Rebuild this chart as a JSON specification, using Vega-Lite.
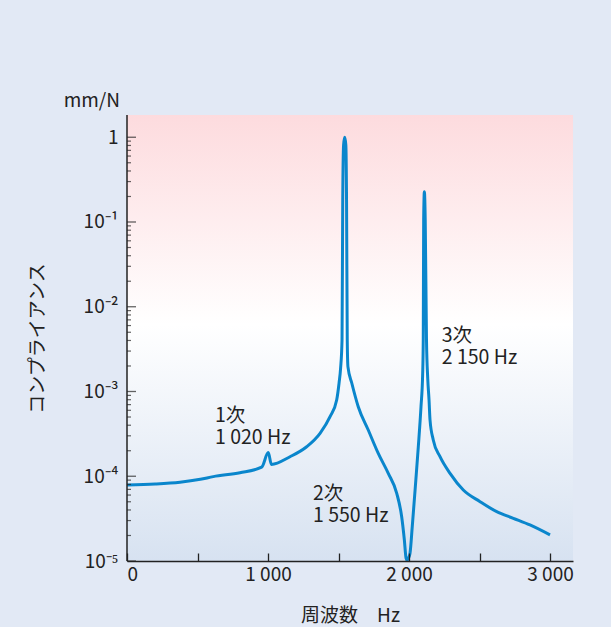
{
  "$schema": "https://vega.github.io/schema/vega-lite/v6.json",
  "width": 446,
  "height": 446,
  "autosize": "none",
  "padding": {"left": 127, "top": 115, "right": 38, "bottom": 66},
  "background": "#e2e9f5",
  "view": {
    "stroke": null,
    "fill": {
      "gradient": "linear",
      "x1": 0, "y1": 0, "x2": 0, "y2": 1,
      "stops": [
        {"offset": 0, "color": "#fddbde"},
        {"offset": 0.47, "color": "#ffffff"},
        {"offset": 1, "color": "#d7e2f1"}
      ]
    }
  },
  "config": {
    "font": "Noto Sans CJK JP",
    "text": {"font": "Noto Sans CJK JP"},
    "axis": {"zindex": 1}
  },
  "title": {
    "text": "mm/N",
    "anchor": "start",
    "align": "right",
    "frame": "group",
    "dx": -7,
    "offset": 3,
    "fontSize": 19,
    "fontWeight": "normal",
    "font": "Noto Sans CJK JP",
    "color": "#222222"
  },
  "layer": [
    {
      "data": {"name": "curve"},
      "mark": {"type": "line", "interpolate": "monotone", "color": "#0a86cc", "strokeWidth": 3},
      "encoding": {
        "x": {
          "field": "f", "type": "quantitative",
          "scale": {"domain": [0, 3163], "nice": false, "zero": false},
          "axis": {
            "zindex": 1,
            "title": "周波数　Hz",
            "titleFontSize": 19, "titleFontWeight": "normal", "titleColor": "#222222", "titlePadding": 22,
            "values": [0, 500, 1000, 1500, 2000, 2500, 3000],
            "labelExpr": "datum.value == 0 ? '0' : (datum.value % 1000 == 0 ? floor(datum.value / 1000) + ' 000' : '')",
            "labelFlush": true,
            "labelFontSize": 19, "labelColor": "#222222", "labelPadding": 12,
            "tickSize": -8, "tickColor": "#222222", "tickWidth": 1.3,
            "domainColor": "#222222", "domainWidth": 1.5,
            "grid": false
          }
        },
        "y": {
          "field": "c", "type": "quantitative",
          "scale": {"type": "log", "domain": [0.00001, 1.83], "nice": false},
          "axis": {
            "zindex": 1,
            "orient": "left",
            "title": "コンプライアンス",
            "titleFontSize": 19, "titleFontWeight": "normal", "titleColor": "#222222", "titlePadding": 36,
            "values": [0.00001, 0.0001, 0.001, 0.01, 0.1, 1],
            "labelExpr": "datum.value >= 0.5 ? '1' : datum.value >= 0.05 ? '10⁻¹' : datum.value >= 0.005 ? '10⁻²' : datum.value >= 0.0005 ? '10⁻³' : datum.value >= 0.00005 ? '10⁻⁴' : '10⁻⁵'",
            "labelFontSize": 19, "labelColor": "#222222", "labelPadding": 9,
            "ticks": false, "tickSize": 0,
            "domain": false,
            "grid": false
          }
        }
      }
    },
    {
      "data": {"values": [{}]},
      "mark": {"type": "rule", "color": "#222222", "strokeWidth": 1.5},
      "encoding": {
        "x": {"datum": 0, "type": "quantitative"}
      }
    },
    {
      "data": {"values": [
        {"v": 0.00001}, {"v": 0.0001}, {"v": 0.001}, {"v": 0.01}, {"v": 0.1}, {"v": 1}
      ]},
      "mark": {"type": "tick", "orient": "horizontal", "color": "#222222", "thickness": 1.3, "size": 9, "xOffset": 4.5},
      "encoding": {
        "x": {"datum": 0, "type": "quantitative"},
        "y": {"field": "v", "type": "quantitative", "axis": null}
      }
    },
    {
      "data": {"values": [
        {"v": 0.00002}, {"v": 0.00003}, {"v": 0.00004}, {"v": 0.00005}, {"v": 0.00006}, {"v": 0.00007}, {"v": 0.00008}, {"v": 0.00009},
        {"v": 0.0002}, {"v": 0.0003}, {"v": 0.0004}, {"v": 0.0005}, {"v": 0.0006}, {"v": 0.0007}, {"v": 0.0008}, {"v": 0.0009},
        {"v": 0.002}, {"v": 0.003}, {"v": 0.004}, {"v": 0.005}, {"v": 0.006}, {"v": 0.007}, {"v": 0.008}, {"v": 0.009},
        {"v": 0.02}, {"v": 0.03}, {"v": 0.04}, {"v": 0.05}, {"v": 0.06}, {"v": 0.07}, {"v": 0.08}, {"v": 0.09},
        {"v": 0.2}, {"v": 0.3}, {"v": 0.4}, {"v": 0.5}, {"v": 0.6}, {"v": 0.7}, {"v": 0.8}, {"v": 0.9}
      ]},
      "mark": {"type": "tick", "orient": "horizontal", "color": "#222222", "thickness": 1.2, "size": 4, "xOffset": 2},
      "encoding": {
        "x": {"datum": 0, "type": "quantitative"},
        "y": {"field": "v", "type": "quantitative", "axis": null}
      }
    },
    {
      "data": {"values": [
        {"f": 624, "c": 0.000435, "t": "1次\n1 020 Hz"},
        {"f": 1319, "c": 0.0000524, "t": "2次\n1 550 Hz"},
        {"f": 2232, "c": 0.00383, "t": "3次\n2 150 Hz"}
      ]},
      "mark": {"type": "text", "align": "left", "baseline": "alphabetic", "fontSize": 19.5, "lineHeight": 22, "lineBreak": "\n", "color": "#222222"},
      "encoding": {
        "x": {"field": "f", "type": "quantitative"},
        "y": {"field": "c", "type": "quantitative", "axis": null},
        "text": {"field": "t"}
      }
    }
  ],
  "resolve": {"axis": {"y": "independent", "x": "shared"}},
  "datasets": {
    "curve": [
      {"f": 0, "c": 0.000079},
      {"f": 200, "c": 0.000081},
      {"f": 376, "c": 0.000085},
      {"f": 520, "c": 0.000092},
      {"f": 612, "c": 0.000099},
      {"f": 801, "c": 0.00011},
      {"f": 955, "c": 0.000128},
      {"f": 1002, "c": 0.00019},
      {"f": 1024, "c": 0.000138},
      {"f": 1156, "c": 0.00017},
      {"f": 1274, "c": 0.000223},
      {"f": 1369, "c": 0.000321},
      {"f": 1440, "c": 0.000505},
      {"f": 1487, "c": 0.000794},
      {"f": 1504, "c": 0.00126},
      {"f": 1515, "c": 0.0019},
      {"f": 1525, "c": 0.00406},
      {"f": 1530, "c": 0.182},
      {"f": 1536, "c": 0.81},
      {"f": 1544, "c": 1.0},
      {"f": 1552, "c": 0.81},
      {"f": 1557, "c": 0.182},
      {"f": 1562, "c": 0.00406},
      {"f": 1567, "c": 0.00195},
      {"f": 1594, "c": 0.00126},
      {"f": 1640, "c": 0.000662},
      {"f": 1711, "c": 0.000351},
      {"f": 1782, "c": 0.000186},
      {"f": 1853, "c": 0.000108},
      {"f": 1913, "c": 0.0000629},
      {"f": 1948, "c": 0.0000333},
      {"f": 1967, "c": 0.0000177},
      {"f": 1979, "c": 0.0000108},
      {"f": 1986, "c": 0.0000102},
      {"f": 1998, "c": 0.000011},
      {"f": 2007, "c": 0.0000123},
      {"f": 2023, "c": 0.0000254},
      {"f": 2043, "c": 0.0000688},
      {"f": 2066, "c": 0.000223},
      {"f": 2085, "c": 0.000662},
      {"f": 2097, "c": 0.00164},
      {"f": 2101, "c": 0.00406},
      {"f": 2104, "c": 0.106},
      {"f": 2109, "c": 0.228},
      {"f": 2115, "c": 0.106},
      {"f": 2124, "c": 0.00406},
      {"f": 2133, "c": 0.0014},
      {"f": 2142, "c": 0.000794},
      {"f": 2149, "c": 0.000461},
      {"f": 2172, "c": 0.000268},
      {"f": 2220, "c": 0.00017},
      {"f": 2291, "c": 0.000108},
      {"f": 2385, "c": 0.0000688},
      {"f": 2504, "c": 0.0000501},
      {"f": 2622, "c": 0.0000382},
      {"f": 2740, "c": 0.0000319},
      {"f": 2858, "c": 0.0000266},
      {"f": 3000, "c": 0.0000203}
    ]
  }
}
